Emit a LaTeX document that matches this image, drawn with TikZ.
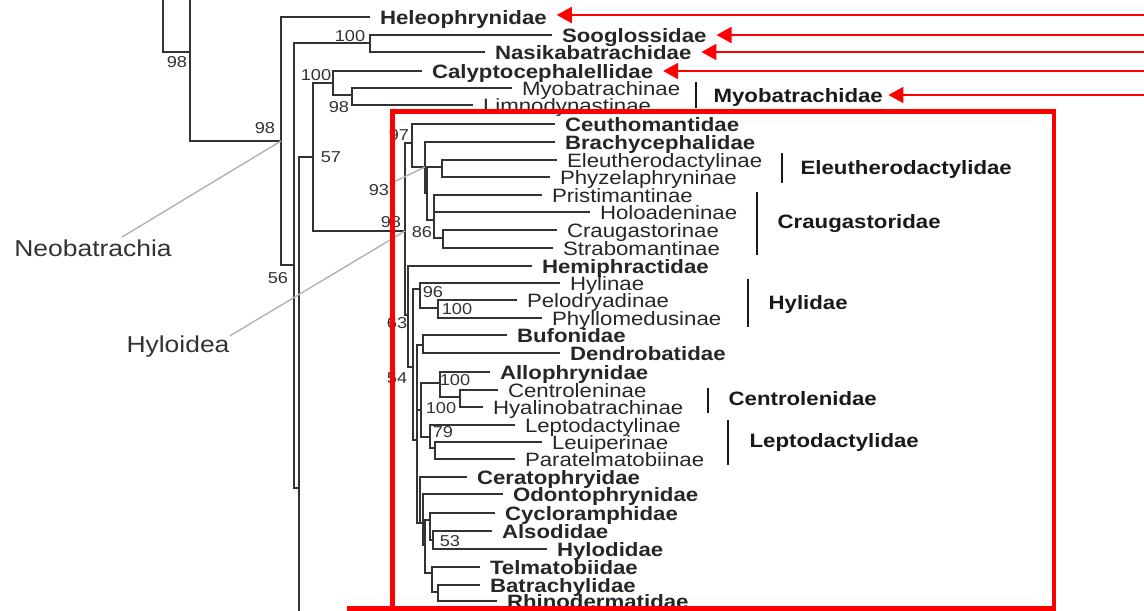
\documentclass[tikz,border=0pt]{standalone}
\usepackage{fontspec}
\setmainfont{Liberation Sans}[FakeStretch=1.15]
\usetikzlibrary{arrows.meta}
\newcommand\leaffont{\fontsize{11}{12}\selectfont}
\newcommand\supfont{\fontsize{9}{10}\selectfont}
\newcommand\cladefont{\fontsize{13.1}{14}\selectfont}

\begin{document}
\begin{tikzpicture}[x=0.02cm, y=-0.02cm,
    branch/.style={line width=0.6pt, draw=black!80},
    taxon/.style={anchor=west, inner xsep=5.5pt, inner ysep=0pt, text height=8pt, text depth=0pt, font=\leaffont, text=black!85},
    btaxon/.style={taxon, font=\leaffont\bfseries},
    support/.style={inner sep=0pt, font=\supfont, text=black!80},
    family/.style={anchor=west, inner xsep=3pt, inner ysep=0pt, text height=8pt, text depth=0pt, font=\leaffont\bfseries, text=black!90},
    bar/.style={line width=1.4pt, draw=black!90},
    groupname/.style={inner sep=0pt, font=\cladefont, text=black!80},
    leader/.style={line width=0.8pt, draw=black!30},
    redbox/.style={line width=2.8pt, draw=red},
    pointer/.style={line width=1.1pt, draw=red, -{Triangle[length=0.3cm, width=0.32cm]}}]
    \clip (0,0) rectangle (1144,610);

    % Taxa (outside Hyloidea)
    \node[btaxon] (hel) at (370,17) {Heleophrynidae};
    \node[btaxon] (soo) at (552,35) {Sooglossidae};
    \node[btaxon] (nas) at (485,52) {Nasikabatrachidae};
    \node[btaxon] (cal) at (422,71) {Calyptocephalellidae};
    \node[taxon] (myo) at (512,88) {Myobatrachinae};
    \node[taxon] (lim) at (473,105) {Limnodynastinae};

    % Taxa (Hyloidea)
    \node[btaxon] (ceu) at (555,124) {Ceuthomantidae};
    \node[btaxon] (bra) at (555,142) {Brachycephalidae};
    \node[taxon] (ele) at (557,160) {Eleutherodactylinae};
    \node[taxon] (phy) at (550,177) {Phyzelaphryninae};
    \node[taxon] (pri) at (542,195) {Pristimantinae};
    \node[taxon] (hol) at (590,212) {Holoadeninae};
    \node[taxon] (cra) at (557,230) {Craugastorinae};
    \node[taxon] (str) at (553,248) {Strabomantinae};
    \node[btaxon] (hem) at (532,266) {Hemiphractidae};
    \node[taxon] (hyl) at (560,283) {Hylinae};
    \node[taxon] (pel) at (517,300) {Pelodryadinae};
    \node[taxon] (phm) at (542,318) {Phyllomedusinae};
    \node[btaxon] (buf) at (507,335) {Bufonidae};
    \node[btaxon] (den) at (560,353) {Dendrobatidae};
    \node[btaxon] (all) at (490,372) {Allophrynidae};
    \node[taxon] (cen) at (498,390) {Centroleninae};
    \node[taxon] (hya) at (483,407) {Hyalinobatrachinae};
    \node[taxon] (lpd) at (515,425) {Leptodactylinae};
    \node[taxon] (leu) at (542,442) {Leuiperinae};
    \node[taxon] (par) at (515,459) {Paratelmatobiinae};
    \node[btaxon] (cer) at (467,477) {Ceratophryidae};
    \node[btaxon] (odo) at (503,494) {Odontophrynidae};
    \node[btaxon] (cyc) at (495,513) {Cycloramphidae};
    \node[btaxon] (als) at (492,531) {Alsodidae};
    \node[btaxon] (hyd) at (547,549) {Hylodidae};
    \node[btaxon] (tel) at (480,567) {Telmatobiidae};
    \node[btaxon] (bat) at (480,585) {Batrachylidae};
    \node[btaxon] (rhi) at (497,601) {Rhinodermatidae};

    % Inner nodes
    \coordinate (top1) at (163,-5);
    \coordinate (top2) at (190,-5);
    \coordinate (n98a) at (190,52);
    \coordinate (n98b) at (281,141);
    \coordinate (n56) at (294,265);
    \coordinate (n100a) at (370,43);
    \coordinate (nbase) at (299,488);
    \coordinate (bot1) at (299,615);
    \coordinate (n57) at (313,157);
    \coordinate (n100b) at (333,83);
    \coordinate (n98c) at (352,95);
    \coordinate (nhyl) at (405,231);
    \coordinate (n97) at (412,143);
    \coordinate (nbr) at (425,167);
    \coordinate (n93) at (427,193);
    \coordinate (nele) at (442,167);
    \coordinate (n86) at (434,220);
    \coordinate (ncs) at (443,238);
    \coordinate (n63) at (408,315);
    \coordinate (n54) at (413,367);
    \coordinate (n96) at (420,289);
    \coordinate (n100c) at (438,308);
    \coordinate (nrest) at (417,440);
    \coordinate (nbd) at (423,345);
    \coordinate (nal) at (421,410);
    \coordinate (nac) at (440,383);
    \coordinate (ncen) at (460,397);
    \coordinate (nlep) at (430,437);
    \coordinate (nlp) at (435,448);
    \coordinate (ncer) at (420,523);
    \coordinate (nodo) at (423,523);
    \coordinate (nlow) at (425,545);
    \coordinate (ncyc) at (430,520);
    \coordinate (n53) at (433,540);
    \coordinate (ntel) at (432,573);
    \coordinate (nbat) at (438,592);

    % Branches
    \draw[branch] (top1) |- (n98a);
    \draw[branch] (top2) -- (n98a) |- (n98b);
    \draw[branch] (n98b) |- (hel.west);
    \draw[branch] (n98b) |- (n56);
    \draw[branch] (n56) |- (n100a);
    \draw[branch] (n56) |- (nbase);
    \draw[branch] (n100a) |- (soo.west);
    \draw[branch] (n100a) |- (nas.west);
    \draw[branch] (nbase) |- (n57);
    \draw[branch] (nbase) -- (bot1);
    \draw[branch] (n57) |- (n100b);
    \draw[branch] (n57) |- (nhyl);
    \draw[branch] (n100b) |- (cal.west);
    \draw[branch] (n100b) |- (n98c);
    \draw[branch] (n98c) |- (myo.west);
    \draw[branch] (n98c) |- (lim.west);

    \draw[branch] (nhyl) |- (n97);
    \draw[branch] (nhyl) |- (n63);
    \draw[branch] (n97) |- (ceu.west);
    \draw[branch] (n97) |- (nbr);
    \draw[branch] (nbr) |- (bra.west);
    \draw[branch] (nbr) |- (n93);
    \draw[branch] (n93) |- (nele);
    \draw[branch] (n93) |- (n86);
    \draw[branch] (nele) |- (ele.west);
    \draw[branch] (nele) |- (phy.west);
    \draw[branch] (n86) |- (pri.west);
    \draw[branch] (n86) |- (hol.west);
    \draw[branch] (n86) |- (ncs);
    \draw[branch] (ncs) |- (cra.west);
    \draw[branch] (ncs) |- (str.west);

    \draw[branch] (n63) |- (hem.west);
    \draw[branch] (n63) |- (n54);
    \draw[branch] (n54) |- (n96);
    \draw[branch] (n54) |- (nrest);
    \draw[branch] (n96) |- (hyl.west);
    \draw[branch] (n96) |- (n100c);
    \draw[branch] (n100c) |- (pel.west);
    \draw[branch] (n100c) |- (phm.west);
    \draw[branch] (nrest) |- (nbd);
    \draw[branch] (nrest) |- (nal);
    \draw[branch] (nrest) |- (ncer);
    \draw[branch] (nbd) |- (buf.west);
    \draw[branch] (nbd) |- (den.west);
    \draw[branch] (nal) |- (nac);
    \draw[branch] (nal) |- (nlep);
    \draw[branch] (nac) |- (all.west);
    \draw[branch] (nac) |- (ncen);
    \draw[branch] (ncen) |- (cen.west);
    \draw[branch] (ncen) |- (hya.west);
    \draw[branch] (nlep) |- (lpd.west);
    \draw[branch] (nlep) |- (nlp);
    \draw[branch] (nlp) |- (leu.west);
    \draw[branch] (nlp) |- (par.west);
    \draw[branch] (ncer) |- (cer.west);
    \draw[branch] (ncer) -- (nodo);
    \draw[branch] (nodo) |- (odo.west);
    \draw[branch] (nodo) |- (nlow);
    \draw[branch] (nlow) |- (ncyc);
    \draw[branch] (nlow) |- (ntel);
    \draw[branch] (ncyc) |- (cyc.west);
    \draw[branch] (ncyc) |- (n53);
    \draw[branch] (n53) |- (als.west);
    \draw[branch] (n53) |- (hyd.west);
    \draw[branch] (ntel) |- (tel.west);
    \draw[branch] (ntel) |- (nbat);
    \draw[branch] (nbat) |- (bat.west);
    \draw[branch] (nbat) |- (rhi.west);

    % Support values
    \node[support] (s1) at (177,62) {98};
    \node[support] (s2) at (265,128) {98};
    \node[support] (s3) at (350,36) {100};
    \node[support] (s4) at (316,75) {100};
    \node[support] (s5) at (339,107) {98};
    \node[support] (s6) at (331,157) {57};
    \node[support] (s7) at (278,278) {56};
    \node[support] (s8) at (399,135) {97};
    \node[support] (s9) at (379,190) {93};
    \node[support] (s10) at (391,222) {98};
    \node[support] (s11) at (422,232) {86};
    \node[support] (s12) at (397,323) {63};
    \node[support] (s13) at (433,292) {96};
    \node[support] (s14) at (457,309) {100};
    \node[support] (s15) at (397,378) {54};
    \node[support] (s16) at (455,380) {100};
    \node[support] (s17) at (441,408) {100};
    \node[support] (s18) at (443,432) {79};
    \node[support] (s19) at (450,541) {53};

    % Families with bars
    \node[family] (fmyo) at (708,95) {Myobatrachidae};
    \node[family] (fele) at (795,167) {Eleutherodactylidae};
    \node[family] (fcra) at (772,221) {Craugastoridae};
    \node[family] (fhyl) at (763,302) {Hylidae};
    \node[family] (fcen) at (723,398) {Centrolenidae};
    \node[family] (flep) at (744,440) {Leptodactylidae};
    \draw[bar] (696,82) -- (696,108);
    \draw[bar] (782,153) -- (782,183);
    \draw[bar] (757,192) -- (757,255);
    \draw[bar] (748,279) -- (748,327);
    \draw[bar] (708,388) -- (708,413);
    \draw[bar] (728,420) -- (728,465);

    % Clade names
    \node[groupname] (neo) at (93,248) {Neobatrachia};
    \node[groupname] (hyloid) at (178,347) {Hyloidea};
    \draw[leader] (122,237) -- (n98b);
    \draw[leader] (hyloid.north east) -- (nhyl);
    \draw[leader] (s9.north east) -- (nbr);

    % Red frame and arrows
    \draw[redbox] (392.5,111.5) rectangle (1054,608.5);
    \draw[redbox] (347,608.5) -- (392.5,608.5);
    \coordinate (phel) at (1150,15);
    \coordinate (psoo) at (1150,35);
    \coordinate (pnas) at (1150,52);
    \coordinate (pcal) at (1150,71);
    \coordinate (pmyo) at (1150,95);
    \draw[pointer] (phel) -- (phel -| hel.east);
    \draw[pointer] (psoo) -- (psoo -| soo.east);
    \draw[pointer] (pnas) -- (pnas -| nas.east);
    \draw[pointer] (pcal) -- (pcal -| cal.east);
    \draw[pointer] (pmyo) -- (pmyo -| fmyo.east);
\end{tikzpicture}
\end{document}
